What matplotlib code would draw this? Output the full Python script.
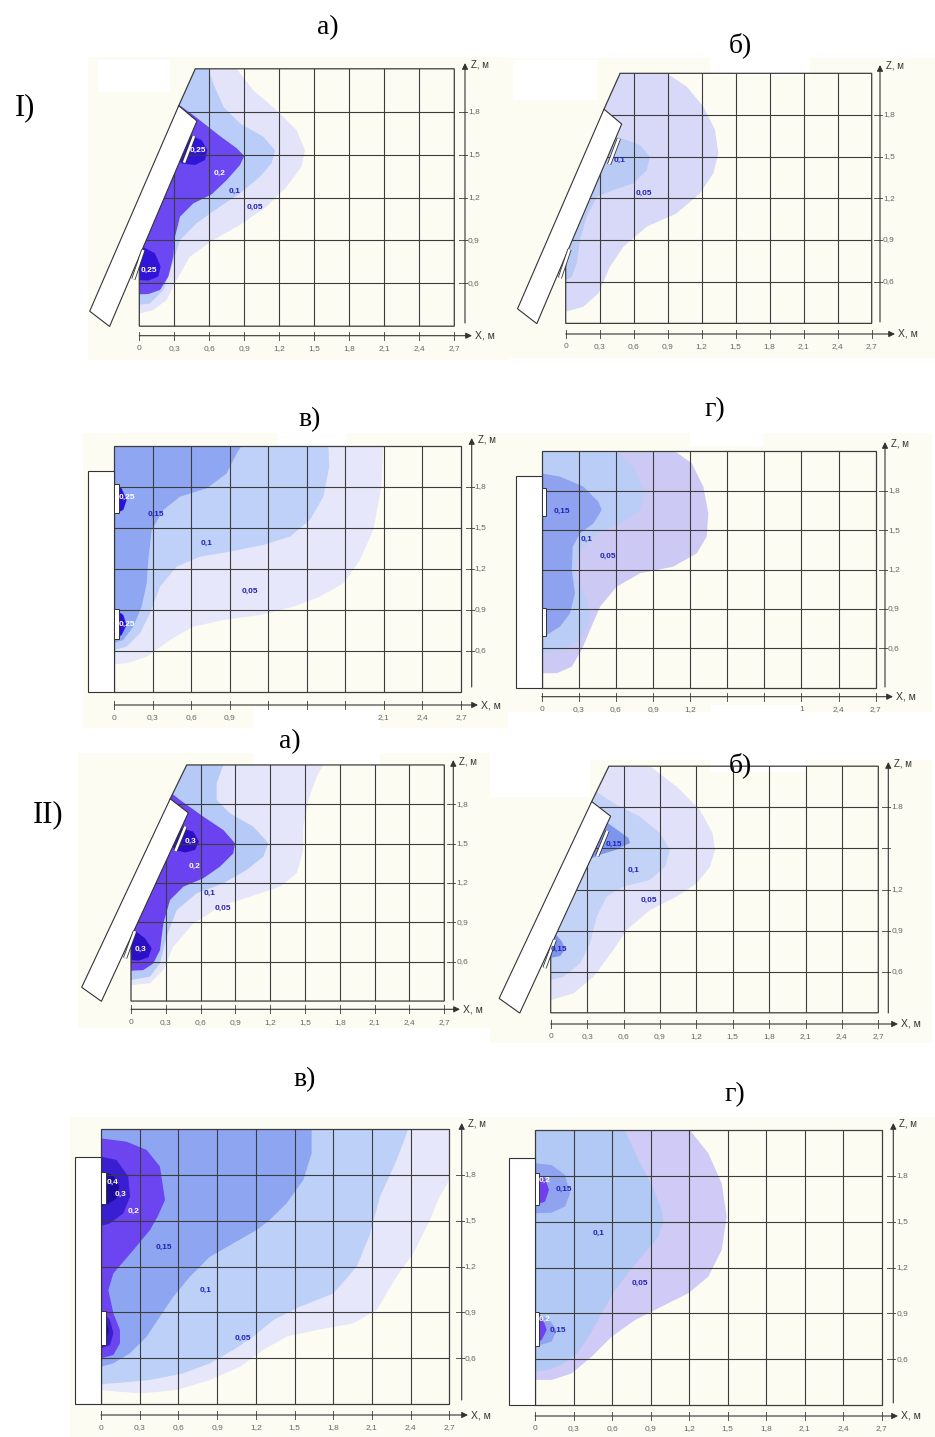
import matplotlib
matplotlib.use("Agg")
import matplotlib.pyplot as plt
from matplotlib.patches import Polygon, Rectangle
import matplotlib.patheffects as pe

W, H = 935, 1437
CREAM = "#fdfcf3"
GRID = "#3c3c3c"

# ---------------- data (x, z in metres) ----------------
X_TICKS = [0, 0.3, 0.6, 0.9, 1.2, 1.5, 1.8, 2.1, 2.4, 2.7]
X_LABELS = ["0", "0,3", "0,6", "0,9", "1,2", "1,5", "1,8", "2,1", "2,4", "2,7"]
X_LABELS_IV = ["0", "0,3", "0,6", "0,9", "", "", "", "2,1", "2,4", "2,7"]
X_LABELS_IG = ["0", "0,3", "0,6", "0,9", "1,2", "", "", "1", "2,4", "2,7"]
Z_TICKS = [0.6, 0.9, 1.2, 1.5, 1.8]
Z_LABELS = ["0,6", "0,9", "1,2", "1,5", "1,8"]
Z_LABELS_IIB = ["0,6", "0,9", "1,2", "", "1.8"]

# tilted panel and the room outline next to it
TILT_PANEL = [(-0.425, 0.405), (-0.255, 0.298), (0.494, 1.735), (0.338, 1.842)]
TILT_ROOM = [(0, 0.3), (2.7, 0.3), (2.7, 2.1), (0.48, 2.1), (0.338, 1.842), (0, 0.787)]
TILT_LAMPS = [[(0.383, 1.444), (0.469, 1.63)], [(-0.051, 0.628), (0.034, 0.833)]]
# vertical wall panel
WALL_ROOM = [(0, 0.3), (2.7, 0.3), (2.7, 2.1), (0, 2.1)]
WALL_X0, WALL_TOP = -0.205, 1.915
WALL_LAMPS = [(1.61, 1.82), (0.69, 0.91)]

# I a)
IA_005 = [(0.3, 2.1), (0.834, 2.1), (0.977, 1.95), (1.177, 1.81), (1.349, 1.67), (1.42, 1.53),
          (1.391, 1.416), (1.263, 1.276), (1.091, 1.136), (0.863, 1.008), (0.634, 0.903),
          (0.434, 0.786), (0.32, 0.623), (0.234, 0.483), (0.12, 0.413), (0.006, 0.39),
          (-0.6, 0.39), (-0.6, 2.1)]
IA_01 = [(0.3, 2.1), (0.59, 2.1), (0.634, 1.997), (0.72, 1.835), (0.863, 1.718), (1.063, 1.625),
         (1.163, 1.53), (1.134, 1.44), (1.034, 1.345), (0.863, 1.229), (0.691, 1.136),
         (0.491, 1.02), (0.349, 0.903), (0.277, 0.717), (0.206, 0.553), (0.091, 0.46),
         (0, 0.45), (-0.6, 0.45), (-0.6, 2.1)]
IA_02 = [(0.343, 1.847), (0.477, 1.767), (0.691, 1.63), (0.834, 1.545), (0.9, 1.49), (0.863, 1.427),
         (0.749, 1.322), (0.62, 1.222), (0.463, 1.159), (0.349, 1.066), (0.306, 0.926),
         (0.291, 0.786), (0.249, 0.647), (0.177, 0.553), (0.077, 0.525), (0, 0.523),
         (-0.3, 0.523), (0.2, 1.847)]
IA_025A = [(0.40, 1.66), (0.434, 1.637), (0.534, 1.602), (0.583, 1.532), (0.563, 1.462),
           (0.477, 1.427), (0.363, 1.438), (0.30, 1.5)]
IA_025B = [(0.02, 0.86), (0.134, 0.81), (0.183, 0.717), (0.163, 0.647), (0.077, 0.619),
           (0, 0.623), (-0.1, 0.7)]
IA_LBL = ["0,25", "0,2", "0,1", "0,05", "0,25"]
IA_LBL_X = [0.506, 0.691, 0.82, 0.991, 0.083]
IA_LBL_Z = [1.532, 1.369, 1.24, 1.129, 0.689]
IA_LBL_DARK = [True, True, False, False, True]

# I б)
IB_005 = [(0.3, 2.1), (0.891, 2.1), (1.068, 2.004), (1.215, 1.86), (1.318, 1.692), (1.347, 1.524),
          (1.303, 1.38), (1.185, 1.236), (0.979, 1.092), (0.715, 0.996), (0.509, 0.852),
          (0.391, 0.708), (0.288, 0.516), (0.156, 0.42), (0, 0.384), (-0.6, 0.384), (-0.6, 2.1)]
IB_01 = [(0.40, 1.66), (0.494, 1.632), (0.656, 1.584), (0.744, 1.5), (0.715, 1.404),
         (0.597, 1.308), (0.421, 1.26), (0.274, 1.212), (0.185, 1.068), (0.126, 0.9),
         (0.097, 0.732), (0.053, 0.636), (0, 0.612), (-0.3, 0.612), (0.2, 1.66)]
IB_LBL = ["0,1", "0,05"]
IB_LBL_X = [0.479, 0.691]
IB_LBL_Z = [1.475, 1.235]
IB_LBL_DARK = [False, False]

# I в)
IV_005 = [(0, 2.1), (2.095, 2.1), (2.08, 1.8), (2.017, 1.484), (1.913, 1.265), (1.784, 1.094),
          (1.602, 0.997), (1.394, 0.924), (1.134, 0.863), (0.849, 0.826), (0.615, 0.778),
          (0.434, 0.68), (0.252, 0.559), (0.096, 0.51), (0, 0.505)]
IV_01 = [(0, 2.1), (1.667, 2.1), (1.674, 1.946), (1.628, 1.727), (1.524, 1.557), (1.368, 1.436),
         (1.16, 1.375), (0.901, 1.326), (0.667, 1.289), (0.485, 1.216), (0.356, 1.07),
         (0.278, 0.875), (0.2, 0.729), (0.096, 0.632), (0, 0.607)]
IV_015 = [(0, 2.1), (0.992, 2.1), (0.953, 2.044), (0.875, 1.897), (0.719, 1.788), (0.511, 1.727),
          (0.382, 1.63), (0.291, 1.484), (0.265, 1.265), (0.252, 1.094), (0.213, 0.924),
          (0.148, 0.778), (0.07, 0.68), (0, 0.661)]
IV_025A = [(0, 1.824), (0.057, 1.788), (0.096, 1.703), (0.07, 1.63), (0, 1.6)]
IV_025B = [(0, 0.912), (0.07, 0.863), (0.096, 0.79), (0.057, 0.717), (0, 0.68)]
IV_LBL = ["0,25", "0,15", "0,1", "0,05", "0,25"]
IV_LBL_X = [0.101, 0.325, 0.719, 1.057, 0.101]
IV_LBL_Z = [1.722, 1.6, 1.386, 1.038, 0.797]
IV_LBL_DARK = [True, False, False, False, True]

# I г)
IG_005 = [(0, 2.1), (1.078, 2.1), (1.213, 2.008), (1.307, 1.83), (1.347, 1.627), (1.334, 1.45),
          (1.253, 1.323), (1.064, 1.222), (0.795, 1.171), (0.606, 1.069), (0.472, 0.917),
          (0.391, 0.74), (0.323, 0.587), (0.243, 0.46), (0.121, 0.41), (0, 0.41)]
IG_01 = [(0, 2.1), (0.606, 2.1), (0.741, 1.983), (0.835, 1.78), (0.795, 1.653), (0.633, 1.551),
         (0.445, 1.475), (0.296, 1.323), (0.269, 1.145), (0.364, 0.968), (0.391, 0.816),
         (0.31, 0.663), (0.175, 0.587), (0, 0.562)]
IG_015 = [(0, 1.932), (0.148, 1.907), (0.337, 1.831), (0.458, 1.716), (0.485, 1.653),
          (0.418, 1.551), (0.31, 1.475), (0.251, 1.374), (0.243, 1.196), (0.269, 1.019),
          (0.229, 0.866), (0.148, 0.765), (0.04, 0.701), (0, 0.694)]
IG_LBL = ["0,15", "0,1", "0,05"]
IG_LBL_X = [0.162, 0.364, 0.531]
IG_LBL_Z = [1.643, 1.427, 1.30]
IG_LBL_DARK = [False, False, False]

# II а)
IIA_005 = [(0.3, 2.1), (1.658, 2.1), (1.6, 2.011), (1.528, 1.833), (1.485, 1.63), (1.485, 1.452),
           (1.428, 1.274), (1.284, 1.172), (1.026, 1.096), (0.767, 1.02), (0.537, 0.892),
           (0.365, 0.714), (0.279, 0.536), (0.164, 0.435), (0, 0.422), (-0.6, 0.422), (-0.6, 2.1)]
IIA_01 = [(0.3, 2.1), (0.796, 2.1), (0.738, 1.96), (0.738, 1.833), (0.853, 1.731), (1.054, 1.63),
          (1.184, 1.503), (1.14, 1.401), (0.997, 1.299), (0.796, 1.198), (0.566, 1.121),
          (0.394, 0.994), (0.307, 0.791), (0.25, 0.587), (0.164, 0.486), (0, 0.46),
          (-0.6, 0.46), (-0.6, 2.1)]
IIA_02 = [(0.35, 1.884), (0.422, 1.833), (0.623, 1.706), (0.796, 1.604), (0.896, 1.503),
          (0.882, 1.426), (0.767, 1.325), (0.623, 1.236), (0.451, 1.172), (0.336, 1.07),
          (0.279, 0.892), (0.25, 0.689), (0.192, 0.587), (0.106, 0.536), (0, 0.531),
          (-0.3, 0.531), (0.2, 1.884)]
IIA_03A = [(0.40, 1.64), (0.437, 1.617), (0.537, 1.592), (0.586, 1.516), (0.552, 1.452),
           (0.465, 1.432), (0.379, 1.452), (0.30, 1.55)]
IIA_03B = [(0.03, 0.84), (0.121, 0.778), (0.178, 0.702), (0.149, 0.633), (0.063, 0.608),
           (0, 0.613), (-0.1, 0.7)]
IIA_LBL = ["0,3", "0,2", "0,1", "0,05", "0,3"]
IIA_LBL_X = [0.514, 0.552, 0.681, 0.796, 0.086]
IIA_LBL_Z = [1.516, 1.325, 1.121, 1.007, 0.694]
IIA_LBL_DARK = [True, True, False, False, True]

# II б)
IIB_005 = [(0.3, 2.1), (0.818, 2.1), (1.038, 1.951), (1.23, 1.781), (1.335, 1.61), (1.354, 1.488),
           (1.313, 1.367), (1.203, 1.245), (1.038, 1.148), (0.818, 1.05), (0.626, 0.904),
           (0.516, 0.758), (0.352, 0.563), (0.187, 0.442), (0, 0.393), (-0.6, 0.393), (-0.6, 2.1)]
IIB_01 = [(0.379, 1.912), (0.544, 1.817), (0.736, 1.732), (0.901, 1.61), (0.983, 1.488),
          (0.942, 1.367), (0.818, 1.27), (0.599, 1.221), (0.461, 1.148), (0.379, 1.002),
          (0.324, 0.807), (0.242, 0.661), (0.104, 0.563), (0, 0.539), (-0.3, 0.539), (0.2, 1.912)]
IIB_015A = [(0.40, 1.70), (0.448, 1.699), (0.544, 1.638), (0.64, 1.577), (0.654, 1.54),
            (0.544, 1.491), (0.407, 1.454), (0.31, 1.418), (0.25, 1.5)]
IIB_015B = [(0.03, 0.884), (0.091, 0.823), (0.118, 0.762), (0.077, 0.714), (0, 0.701), (-0.1, 0.8)]
IIB_LBL = ["0,15", "0,1", "0,05", "0,15"]
IIB_LBL_X = [0.522, 0.687, 0.813, 0.071]
IIB_LBL_Z = [1.531, 1.342, 1.123, 0.762]
IIB_LBL_DARK = [False, False, False, False]

# II в)
IIV_005 = [(0, 2.1), (2.7, 2.1), (2.7, 1.767), (2.62, 1.65), (2.55, 1.506), (2.421, 1.287),
           (2.292, 1.135), (2.137, 0.916), (1.956, 0.829), (1.672, 0.785), (1.439, 0.742),
           (1.258, 0.655), (1.078, 0.545), (0.845, 0.458), (0.587, 0.393), (0.328, 0.371),
           (0.121, 0.382), (0, 0.393)]
IIV_01 = [(0, 2.1), (2.382, 2.1), (2.292, 1.898), (2.163, 1.658), (2.08, 1.40), (1.982, 1.2),
          (1.801, 1.025), (1.543, 0.938), (1.336, 0.851), (1.181, 0.742), (1.026, 0.655),
          (0.845, 0.567), (0.638, 0.502), (0.38, 0.458), (0.147, 0.44), (0, 0.43)]
IIV_015 = [(0, 2.1), (1.633, 2.1), (1.633, 1.942), (1.568, 1.767), (1.439, 1.615), (1.3, 1.5),
           (1.207, 1.44), (1.026, 1.353), (0.845, 1.265), (0.69, 1.135), (0.561, 1.004),
           (0.457, 0.873), (0.354, 0.742), (0.225, 0.633), (0.096, 0.567), (0, 0.545)]
IIV_02 = [(0, 2.04), (0.199, 2.018), (0.354, 1.964), (0.457, 1.855), (0.496, 1.636), (0.44, 1.53),
          (0.38, 1.44), (0.251, 1.309), (0.096, 1.156), (0.057, 1.047), (0.096, 0.895),
          (0.147, 0.785), (0.147, 0.698), (0.096, 0.622), (0, 0.6)]
IIV_03A = [(0, 1.92), (0.121, 1.898), (0.212, 1.789), (0.225, 1.658), (0.173, 1.549),
           (0.07, 1.484), (0, 1.466)]
IIV_04A = [(0, 1.822), (0.096, 1.8), (0.142, 1.724), (0.121, 1.647), (0.044, 1.604), (0, 1.597)]
IIV_03B = [(0, 0.916), (0.07, 0.851), (0.096, 0.764), (0.07, 0.687), (0, 0.665)]
IIV_04B = [(0, 0.89), (0.045, 0.84), (0.06, 0.78), (0.04, 0.72), (0, 0.70)]
IIV_LBL = ["0,4", "0,3", "0,2", "0,15", "0,1", "0,05"]
IIV_LBL_X = [0.088, 0.152, 0.251, 0.488, 0.811, 1.103]
IIV_LBL_Z = [1.752, 1.674, 1.56, 1.327, 1.047, 0.731]
IIV_LBL_DARK = [True, True, True, False, False, False]

# II г)
IIG_005 = [(0, 2.1), (1.207, 2.1), (1.35, 1.948), (1.454, 1.752), (1.493, 1.534), (1.454, 1.316),
           (1.35, 1.141), (1.194, 1.032), (0.986, 0.945), (0.779, 0.857), (0.597, 0.748),
           (0.441, 0.617), (0.286, 0.508), (0.13, 0.465), (0, 0.465)]
IIG_01 = [(0, 2.1), (0.701, 2.1), (0.805, 1.905), (0.922, 1.72), (0.986, 1.578), (1.0, 1.501),
          (0.961, 1.403), (0.901, 1.342), (0.766, 1.207), (0.623, 1.054), (0.519, 0.901),
          (0.42, 0.75), (0.33, 0.64), (0.22, 0.57), (0.1, 0.53), (0, 0.52)]
IIG_015A = [(0, 1.883), (0.13, 1.872), (0.234, 1.807), (0.273, 1.687), (0.234, 1.6),
            (0.13, 1.56), (0, 1.556)]
IIG_02A = [(0, 1.818), (0.078, 1.785), (0.109, 1.709), (0.078, 1.632), (0, 1.61)]
IIG_015B = [(0, 0.901), (0.104, 0.868), (0.169, 0.792), (0.13, 0.716), (0, 0.683)]
IIG_02B = [(0, 0.89), (0.065, 0.857), (0.091, 0.792), (0.052, 0.727), (0, 0.705)]
IIG_LBL = ["0,2", "0,15", "0,1", "0,05", "0,2", "0,15"]
IIG_LBL_X = [0.078, 0.221, 0.498, 0.818, 0.078, 0.177]
IIG_LBL_Z = [1.774, 1.715, 1.425, 1.097, 0.862, 0.792]
IIG_LBL_DARK = [True, False, False, False, True, False]

# ---------------- layout (figure pixels) ----------------
PANELS = [
    dict(kind="tilt", box=(88, 57, 510, 360), px=(139.3, 454.3, 283.3, 111.7),
         xax=335.7, zax=465, xend=472, ztop=63, zbot=323,
         regions=[(IA_005, "#e3e4fa"), (IA_01, "#b9cdf8"), (IA_02, "#6b48f2"),
                  (IA_025A, "#3014d8"), (IA_025B, "#3014d8")],
         labels=(IA_LBL, IA_LBL_X, IA_LBL_Z, IA_LBL_DARK), xl=X_LABELS, zl=Z_LABELS),
    dict(kind="tilt", box=(502, 58, 935, 358), px=(565.7, 871.7, 281.7, 115),
         xax=334, zax=880, xend=895, ztop=65, zbot=322,
         regions=[(IB_005, "#d8d8f8"), (IB_01, "#b9cbf5")],
         labels=(IB_LBL, IB_LBL_X, IB_LBL_Z, IB_LBL_DARK), xl=X_LABELS, zl=Z_LABELS),
    dict(kind="wall", box=(83, 433, 508, 728), px=(114.3, 461, 651, 486.7),
         xax=705, zax=471.7, xend=478, ztop=438, zbot=687,
         regions=[(IV_005, "#e6e7fa"), (IV_01, "#bfd1f8"), (IV_015, "#8fa7f2"),
                  (IV_025A, "#2a10e0"), (IV_025B, "#2a10e0")],
         labels=(IV_LBL, IV_LBL_X, IV_LBL_Z, IV_LBL_DARK), xl=X_LABELS_IV, zl=Z_LABELS),
    dict(kind="wall", box=(507, 433, 932, 712), px=(541.7, 875.7, 648.3, 490.7),
         xax=696.7, zax=885, xend=893, ztop=442, zbot=687,
         regions=[(IG_005, "#cdc9f5"), (IG_01, "#b9cdf7"), (IG_015, "#8ea2f0")],
         labels=(IG_LBL, IG_LBL_X, IG_LBL_Z, IG_LBL_DARK), xl=X_LABELS_IG, zl=Z_LABELS),
    dict(kind="tilt", box=(78, 753, 500, 1028), px=(131, 444.3, 961.7, 804.3),
         xax=1009.3, zax=453.3, xend=460, ztop=760, zbot=1000,
         regions=[(IIA_005, "#e5e6fa"), (IIA_01, "#b6caf8"), (IIA_02, "#6a42f0"),
                  (IIA_03A, "#2c10c8"), (IIA_03B, "#2c10c8")],
         labels=(IIA_LBL, IIA_LBL_X, IIA_LBL_Z, IIA_LBL_DARK), xl=X_LABELS, zl=Z_LABELS),
    dict(kind="tilt", box=(490, 760, 932, 1043), px=(550.7, 878.3, 971.7, 807.3),
         xax=1024, zax=888.3, xend=898, ztop=762, zbot=1013,
         regions=[(IIB_005, "#e1e1fa"), (IIB_01, "#c3d3f8"), (IIB_015A, "#7e95ee"),
                  (IIB_015B, "#7e95ee")],
         labels=(IIB_LBL, IIB_LBL_X, IIB_LBL_Z, IIB_LBL_DARK), xl=X_LABELS, zl=Z_LABELS_IIB),
    dict(kind="wall", box=(70, 1117, 510, 1437), px=(101, 449.3, 1358.3, 1175),
         xax=1415, zax=461.7, xend=468, ztop=1123, zbot=1400,
         regions=[(IIV_005, "#e6e7fa"), (IIV_01, "#bdd1f8"), (IIV_015, "#8ea6f2"),
                  (IIV_02, "#6c44f0"), (IIV_03A, "#3a1ed2"), (IIV_03B, "#3a1ed2"),
                  (IIV_04A, "#1c0c9c"), (IIV_04B, "#1c0c9c")],
         labels=(IIV_LBL, IIV_LBL_X, IIV_LBL_Z, IIV_LBL_DARK), xl=X_LABELS, zl=Z_LABELS),
    dict(kind="wall", box=(505, 1117, 935, 1437), px=(535, 881.7, 1359.3, 1176),
         xax=1416, zax=893.3, xend=898, ztop=1123, zbot=1403,
         regions=[(IIG_005, "#cfcaf6"), (IIG_01, "#b3c9f5"), (IIG_015A, "#8fa3ef"),
                  (IIG_015B, "#8fa3ef"), (IIG_02A, "#7040f0"), (IIG_02B, "#7040f0")],
         labels=(IIG_LBL, IIG_LBL_X, IIG_LBL_Z, IIG_LBL_DARK), xl=X_LABELS, zl=Z_LABELS),
]

WHITE_MASKS = [(98, 60, 170, 92), (513, 60, 597, 100), (710, 56, 810, 75),
               (277, 420, 347, 444), (253, 708, 380, 730), (690, 420, 763, 446),
               (710, 705, 803, 730), (253, 750, 380, 765), (710, 750, 807, 772),
               (490, 750, 590, 797)]

TITLES = [("а)", 328, 28), ("б)", 740, 45), ("в)", 310, 420), ("г)", 715, 410),
          ("а)", 290, 742), ("б)", 740, 765), ("в)", 305, 1080), ("г)", 735, 1095)]
ROMAN = [("I)", 25, 108), ("II)", 48, 815)]


def fig_rect(fig, box, color, z):
    L, T, R, B = box
    fig.add_artist(Rectangle((L / W, 1 - B / H), (R - L) / W, (B - T) / H,
                             transform=fig.transFigure, color=color, lw=0, zorder=z))


fig = plt.figure(figsize=(W / 100, H / 100), dpi=100)
fig.patch.set_facecolor("white")

for p in PANELS:
    fig_rect(fig, p["box"], CREAM, -3)
for m in WHITE_MASKS:
    fig_rect(fig, m, "white", -2)

for p in PANELS:
    L, T, R, B = p["box"]
    px0, px27, py06, py18 = p["px"]
    sx = (px27 - px0) / 2.7
    sz = (py06 - py18) / 1.2
    ax = fig.add_axes([L / W, 1 - B / H, (R - L) / W, (B - T) / H])
    ax.set_xlim((L - px0) / sx, (R - px0) / sx)
    ax.set_ylim(0.6 - (B - py06) / sz, 0.6 + (py06 - T) / sz)
    ax.axis("off")
    ax.patch.set_visible(False)

    room = TILT_ROOM if p["kind"] == "tilt" else WALL_ROOM
    clip = Polygon(room, closed=True, transform=ax.transData)

    # filled isolines
    for poly, col in p["regions"]:
        patch = Polygon(poly, closed=True, fc=col, ec="none", zorder=1)
        ax.add_patch(patch)
        patch.set_clip_path(clip)

    # grid
    for x in X_TICKS[1:-1]:
        ln, = ax.plot([x, x], [0.3, 2.1], color=GRID, lw=0.8, zorder=2)
        ln.set_clip_path(clip)
    for z in Z_TICKS:
        ln, = ax.plot([-0.6, 2.7], [z, z], color=GRID, lw=0.8, zorder=2)
        ln.set_clip_path(clip)
    ax.add_patch(Polygon(room, closed=True, fc="none", ec=GRID, lw=0.9, zorder=2))

    # luminaire panel
    if p["kind"] == "tilt":
        ax.add_patch(Polygon(TILT_PANEL, closed=True, fc="white", ec="#333333", lw=0.8, zorder=3))
        for (x1, z1), (x2, z2) in TILT_LAMPS:
            ax.plot([x1, x2], [z1, z2], color="white", lw=1.8, solid_capstyle="butt", zorder=4,
                    path_effects=[pe.Stroke(linewidth=3.0, foreground="#333333"), pe.Normal()])
    else:
        ax.add_patch(Rectangle((WALL_X0, 0.3), -WALL_X0, WALL_TOP - 0.3, fc="white",
                               ec="#333333", lw=0.8, zorder=3))
        for z0, z1 in WALL_LAMPS:
            ax.add_patch(Rectangle((0, z0), 0.035, z1 - z0, fc="white", ec="#333333",
                                   lw=0.7, zorder=4))

    # isoline values
    txt, lx, lz, dark = p["labels"]
    for t, x, z, d in zip(txt, lx, lz, dark):
        ax.text(x, z, t, color="white" if d else "#2222b8", fontsize=6, fontweight="bold",
                family="Liberation Sans", ha="center", va="center", zorder=5)

    # X axis
    zx = 0.6 - (p["xax"] - py06) / sz
    xend = (p["xend"] - px0) / sx
    ax.annotate("", xy=(xend, zx), xytext=(0, zx),
                arrowprops=dict(arrowstyle="-|>", color="#333333", lw=0.8,
                                mutation_scale=9, shrinkA=0, shrinkB=0))
    for x, lab in zip(X_TICKS, p["xl"]):
        ax.plot([x, x], [zx - 4 / sz, zx + 4 / sz], color="#555555", lw=0.7)
        ax.text(x, zx - 13 / sz, lab, fontsize=6, color="#666666", family="Liberation Sans",
                ha="center", va="center")
    ax.text(xend + 3 / sx, zx, "X, м", fontsize=7.5, color="#333333",
            family="Liberation Sans", ha="left", va="center")

    # Z axis
    xz = (p["zax"] - px0) / sx
    ztop = 0.6 + (py06 - p["ztop"]) / sz
    zbot = 0.6 + (py06 - p["zbot"]) / sz
    ax.annotate("", xy=(xz, ztop), xytext=(xz, zbot),
                arrowprops=dict(arrowstyle="-|>", color="#333333", lw=0.8,
                                mutation_scale=9, shrinkA=0, shrinkB=0))
    for z, lab in zip(Z_TICKS, p["zl"]):
        ax.plot([xz - 6 / sx, xz + 2 / sx], [z, z], color="#555555", lw=0.7)
        ax.text(xz + 3 / sx, z, lab, fontsize=6, color="#666666", family="Liberation Sans",
                ha="left", va="center")
    ax.text(xz + 6 / sx, ztop - 1 / sz, "Z, м", fontsize=7, color="#333333",
            family="Liberation Sans", ha="left", va="center")

for t, x, y in TITLES:
    fig.text(x / W, 1 - y / H, t, fontsize=20, family="Liberation Serif",
             ha="center", va="center")
for t, x, y in ROMAN:
    fig.text(x / W, 1 - y / H, t, fontsize=22, family="Liberation Serif",
             ha="center", va="center")

fig.savefig("out.png", dpi=100, facecolor="white")
